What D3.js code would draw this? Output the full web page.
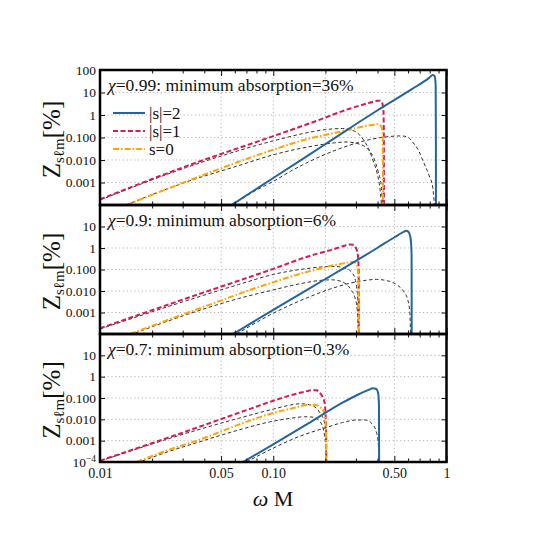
<!DOCTYPE html>
<html><head><meta charset="utf-8">
<script src="https://cdn.jsdelivr.net/npm/d3@7/dist/d3.min.js"></script>
<style>
body{margin:0;background:#fff}
svg{display:block}
</style>
</head><body>
<svg id="c" width="540" height="540"></svg>
<script>
// ---------------- data (ω M , Z in %) ----------------
const seriesNames = ["|s|=2", "|s|=1", "s=0"];
const spins = ["0.99", "0.9", "0.7"];
const minAbsorption = ["36%", "6%", "0.3%"];
const xTickValues = [0.01, 0.05, 0.1, 0.5, 1];
const xTickLabels = ["0.01", "0.05", "0.10", "0.50", "1"];
const xGridValues = [0.05, 0.1, 0.2, 0.5];
const yTickValues = [100, 10, 1, 0.1, 0.01, 0.001, 1e-4];
const yTickLabels = ["100", "10", "1", "0.100", "0.010", "0.001", "10-4"];

// chi = 0.99
const s2_099 = [[0.0574,1e-4],[0.1,0.001585],[0.1995,0.0501],[0.398,1.585],[0.631,14.1],[0.794,44.7],[0.834,60.3],[0.855,52.5],[0.866,20],[0.8685,0.1],[0.8695,1e-6]];
const s1_099 = [[0.01,1.78e-4],[0.0316,0.00537],[0.1,0.115],[0.178,0.55],[0.276,1.905],[0.355,3.39],[0.398,4.27],[0.411,4.33],[0.4256,3.31],[0.4325,1.585],[0.435,0.1],[0.4355,1e-6]];
const s0_099 = [[0.01426,1e-4],[0.0316,0.00112],[0.0631,0.00832],[0.1,0.0288],[0.1585,0.0871],[0.2512,0.1905],[0.3162,0.288],[0.380,0.3715],[0.4027,0.386],[0.4207,0.302],[0.4276,0.158],[0.4295,0.01],[0.4305,1e-6]];
const k1_099 = [[0.01,1.66e-4],[0.0316,0.00468],[0.1,0.0708],[0.1585,0.166],[0.1995,0.224],[0.2512,0.251],[0.2818,0.219],[0.3162,0.126],[0.3548,0.0316],[0.3758,0.01],[0.398,0.00251],[0.412,0.00063],[0.4266,3.16e-5]];
const k0_099 = [[0.0141,1e-4],[0.0316,0.00107],[0.0631,0.00562],[0.1,0.017],[0.1585,0.038],[0.2239,0.0575],[0.263,0.0631],[0.3162,0.0501],[0.3548,0.0282],[0.380,0.0126],[0.4027,0.00316],[0.4207,0.00063],[0.4305,3.16e-5]];
const k2_099 = [[0.0582,1e-4],[0.0794,4.47e-4],[0.1,0.00112],[0.1259,0.00316],[0.1585,0.00794],[0.1995,0.0178],[0.2512,0.0355],[0.3162,0.0631],[0.398,0.0933],[0.501,0.115],[0.5495,0.1175],[0.6026,0.1],[0.637,0.0631],[0.692,0.0251],[0.728,0.01],[0.794,0.002],[0.832,6.3e-4],[0.861,3.16e-5]];

// chi = 0.9
const s2_09 = [[0.0586,1e-4],[0.1,0.00132],[0.1585,0.012],[0.2512,0.107],[0.398,1.0],[0.501,3.16],[0.5623,5.5],[0.586,6.38],[0.6026,5.75],[0.6194,3.16],[0.6287,0.5],[0.6302,1e-6]];
const s1_09 = [[0.01,1.84e-4],[0.0316,0.00457],[0.1,0.107],[0.1622,0.427],[0.2239,0.891],[0.2512,1.2],[0.276,1.445],[0.2884,1.413],[0.2992,1.047],[0.3076,0.501],[0.3112,0.1],[0.3122,1e-6]];
const s0_09 = [[0.0149,1e-4],[0.0377,0.00158],[0.0955,0.0229],[0.1585,0.0794],[0.2239,0.1585],[0.276,0.216],[0.2884,0.229],[0.2992,0.1995],[0.3069,0.112],[0.3105,0.0251],[0.3119,1e-6]];
const k1_09 = [[0.01,1.7e-4],[0.0316,0.00355],[0.0631,0.02],[0.1,0.0589],[0.1585,0.112],[0.1995,0.135],[0.2291,0.138],[0.263,0.112],[0.2884,0.0631],[0.3027,0.0158],[0.309,0.00158],[0.3119,3.16e-5]];
const k0_09 = [[0.0148,8.9e-5],[0.0316,7.94e-4],[0.0631,0.00447],[0.1,0.0112],[0.1413,0.0214],[0.1905,0.0316],[0.2188,0.0331],[0.2512,0.0263],[0.2818,0.0112],[0.2951,0.00537],[0.3055,0.00126],[0.3112,3.16e-5]];
const k2_09 = [[0.0614,1e-4],[0.0955,7.6e-4],[0.1585,0.005],[0.2239,0.0141],[0.276,0.0229],[0.3311,0.0302],[0.3936,0.0347],[0.4677,0.0282],[0.5248,0.0178],[0.5689,0.0089],[0.5984,0.0038],[0.6138,0.001],[0.6223,3.16e-5]];

// chi = 0.7
const s2_07 = [[0.067,1e-4],[0.1,6.76e-4],[0.1585,0.0063],[0.2512,0.0603],[0.3162,0.1585],[0.3548,0.24],[0.3758,0.285],[0.3936,0.263],[0.4027,0.178],[0.4074,0.0501],[0.4093,1e-6]];
const s1_07 = [[0.01,1.15e-4],[0.0316,0.00275],[0.0631,0.02],[0.1,0.0741],[0.1259,0.135],[0.1585,0.214],[0.1694,0.24],[0.1778,0.229],[0.1871,0.166],[0.1982,0.0562],[0.2018,0.00316],[0.203,1e-6]];
const s0_07 = [[0.01626,1e-4],[0.0251,3.8e-4],[0.0377,0.00112],[0.0631,0.00562],[0.0955,0.0178],[0.1259,0.0316],[0.1585,0.0468],[0.1738,0.0479],[0.1854,0.038],[0.1982,0.019],[0.2014,0.00316],[0.2025,1e-6]];
const k1_07 = [[0.01,1.1e-4],[0.0316,0.00224],[0.0631,0.0112],[0.1,0.0302],[0.1259,0.0468],[0.1422,0.0537],[0.1585,0.0501],[0.1738,0.038],[0.1862,0.02],[0.1982,0.00646],[0.2014,0.001],[0.2028,3.16e-5]];
const k0_07 = [[0.01626,8.9e-5],[0.0251,3.16e-4],[0.0377,8.9e-4],[0.0631,0.00316],[0.0955,0.0076],[0.1259,0.0112],[0.1514,0.0132],[0.1698,0.0126],[0.1862,0.0079],[0.1982,0.00158],[0.2014,3.16e-4],[0.2028,3.16e-5]];
const k2_07 = [[0.07,1e-4],[0.1,4.47e-4],[0.1413,0.00158],[0.1995,0.00398],[0.2512,0.00708],[0.302,0.0093],[0.3388,0.0093],[0.3715,0.0063],[0.3936,0.00251],[0.4018,0.00107],[0.4074,2.5e-4],[0.4102,3.16e-5]];

// ---------------- layout ----------------
const FONT = '"Liberation Serif", "Times New Roman", "DejaVu Serif", serif';
const svg = d3.select("#c");
const L = 100, R = 446.5;
const panels = [
  {top: 70, bottom: 205, spin: spins[0], abs: minAbsorption[0], labels: [0,1,2,3,4,5], curves: [s2_099, s1_099, s0_099], approx: [k1_099, k0_099, k2_099]},
  {top: 205, bottom: 334, spin: spins[1], abs: minAbsorption[1], labels: [1,2,3,4,5], curves: [s2_09, s1_09, s0_09], approx: [k1_09, k0_09, k2_09]},
  {top: 334, bottom: 462, spin: spins[2], abs: minAbsorption[2], labels: [1,2,3,4,5,6], curves: [s2_07, s1_07, s0_07], approx: [k1_07, k0_07, k2_07]}
];
const x = d3.scaleLog().domain([0.01, 1]).range([L, R]);
const styles = [
  {color: "#24649e", dash: null, w: 2},
  {color: "#d81b4f", dash: "5,2.5", w: 2},
  {color: "#ffa400", dash: "6,2,1.6,2", w: 2}
];
const minorX = [];
[0.01, 0.1].forEach(b => { for (let k = 2; k <= 9; k++) if (!(k === 5)) minorX.push(b * k); });

panels.forEach((p, pi) => {
  const y = d3.scaleLog().domain([1e-4, 100]).range([p.bottom, p.top]);
  const g = svg.append("g");
  const cid = "clip" + pi;
  svg.append("clipPath").attr("id", cid).append("rect")
    .attr("x", L).attr("y", p.top).attr("width", R - L).attr("height", p.bottom - p.top);

  // grid
  const grid = g.append("g").attr("stroke", "#b5b5b5").attr("stroke-width", 1).attr("stroke-dasharray", "1.2,2.6");
  grid.selectAll("line.h").data([10, 1, 0.1, 0.01, 0.001]).enter().append("line")
    .attr("x1", L).attr("x2", R).attr("y1", d => y(d)).attr("y2", d => y(d));
  grid.selectAll("line.v").data(xGridValues).enter().append("line")
    .attr("x1", d => x(d)).attr("x2", d => x(d)).attr("y1", p.top).attr("y2", p.bottom);

  // approximations (black dashed)
  const line = d3.line().x(d => x(d[0])).y(d => y(d[1])).curve(d3.curveMonotoneX);
  const cg = g.append("g").attr("clip-path", `url(#${cid})`);
  p.approx.forEach(a => {
    cg.append("path").attr("d", line(a)).attr("fill", "none").attr("stroke", "#333")
      .attr("stroke-width", 1).attr("stroke-dasharray", "3.5,2.5");
  });
  // exact curves
  [1, 2, 0].forEach(i => {
    const s = styles[i];
    cg.append("path").attr("d", line(p.curves[i])).attr("fill", "none").attr("stroke", s.color)
      .attr("stroke-width", s.w).attr("stroke-dasharray", s.dash);
  });

  // axes (inward ticks)
  const yAx = d3.axisLeft(y).tickValues(yTickValues).tickSize(-5).tickPadding(4)
    .tickFormat((d, i) => p.labels.includes(i) ? yTickLabels[i] : "");
  const ga = g.append("g").attr("transform", `translate(${L},0)`).call(yAx);
  ga.selectAll("text").attr("font-size", 13.5).attr("fill", "#111");
  ga.selectAll("text").filter((d, i) => d === 1e-4 && p.labels.includes(6)).each(function () {
    const t = d3.select(this); t.text("10");
    t.append("tspan").attr("dy", -5).attr("font-size", 9.5).text("\u22124");
  });
  g.append("g").attr("transform", `translate(${R},0)`)
    .call(d3.axisRight(y).tickValues(yTickValues).tickSize(-5).tickFormat(""));
  const bx = d3.axisBottom(x).tickValues(xTickValues).tickSize(-6).tickPadding(6)
    .tickFormat((d, i) => pi === 2 ? xTickLabels[i] : "");
  const gb = g.append("g").attr("transform", `translate(0,${p.bottom})`).call(bx);
  gb.selectAll("text").attr("font-size", 14).attr("fill", "#111");
  g.append("g").attr("transform", `translate(0,${p.bottom})`)
    .call(d3.axisBottom(x).tickValues(minorX).tickSize(-3.5).tickFormat(""));
  g.append("g").attr("transform", `translate(0,${p.top})`)
    .call(d3.axisTop(x).tickValues(xTickValues).tickSize(-6).tickFormat(""));
  g.append("g").attr("transform", `translate(0,${p.top})`)
    .call(d3.axisTop(x).tickValues(minorX).tickSize(-3.5).tickFormat(""));
  g.selectAll(".domain").remove();
  g.selectAll(".tick line").attr("stroke", "#111").attr("stroke-width", 1);

  // frame
  g.append("rect").attr("x", L).attr("y", p.top).attr("width", R - L).attr("height", p.bottom - p.top)
    .attr("fill", "none").attr("stroke", "#000").attr("stroke-width", 2.5);

  // panel title
  const t = g.append("text").attr("x", 108).attr("y", p.top + 21).attr("font-size", 17.5);
  t.append("tspan").attr("font-style", "italic").text("\u03c7");
  t.append("tspan").text(`=${p.spin}: minimum absorption=${p.abs}`);

  // y title
  const yt = g.append("text").attr("transform", `translate(60,${(p.top + p.bottom) / 2 + 2}) rotate(-90)`)
    .attr("text-anchor", "middle").attr("font-size", 25);
  yt.append("tspan").text("Z");
  yt.append("tspan").attr("font-size", 15).attr("dy", 4).text("s\u2113m");
  yt.append("tspan").attr("dy", -4).text("[%]");
});

// legend (top panel)
const lg = svg.append("g");
[0, 1, 2].forEach(i => {
  const yy = 113 + i * 18;
  const s = styles[i];
  lg.append("line").attr("x1", 113).attr("x2", 145).attr("y1", yy).attr("y2", yy)
    .attr("stroke", s.color).attr("stroke-width", s.w).attr("stroke-dasharray", s.dash);
  lg.append("text").attr("x", 149).attr("y", yy + 5.5).attr("font-size", 17).text(seriesNames[i]);
});

// x title
const xt = svg.append("text").attr("x", 273).attr("y", 506).attr("text-anchor", "middle").attr("font-size", 22);
xt.append("tspan").attr("font-style", "italic").text("\u03c9");
xt.append("tspan").text(" M");

svg.selectAll("text").style("font-family", FONT).attr("fill", "#111");
</script>
</body></html>
